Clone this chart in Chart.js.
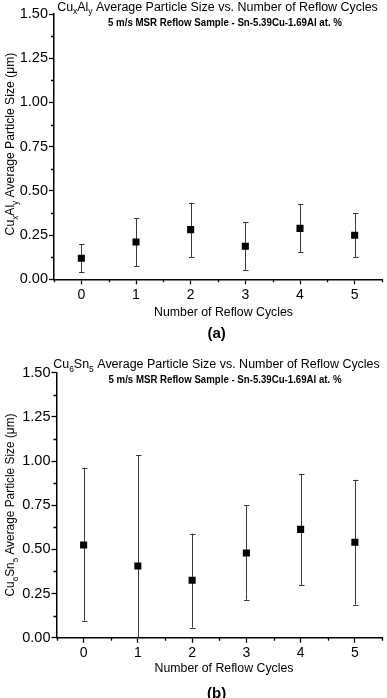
<!DOCTYPE html>
<html><head><meta charset="utf-8">
<script src="https://cdn.jsdelivr.net/npm/chart.js@4.4.0/dist/chart.umd.min.js"></script>
<style>
html,body{margin:0;padding:0;background:#fff;width:387px;height:698px;overflow:hidden}
.box{position:absolute;left:0;width:387px;height:349px}
</style></head><body>
<div class="box" style="top:0"><canvas id="c1"></canvas></div>
<div class="box" style="top:349px"><canvas id="c2"></canvas></div>
<script>
// ---- data ----
const cycles = [0, 1, 2, 3, 4, 5];
const xTickLabels = ['0', '1', '2', '3', '4', '5'];
const yTickValues = [0, 0.25, 0.5, 0.75, 1.0, 1.25, 1.5];
const cuAlMean  = [0.119, 0.211, 0.281, 0.187, 0.288, 0.249];
const cuAlUpper = [0.198, 0.345, 0.433, 0.322, 0.424, 0.373];
const cuAlLower = [0.040, 0.074, 0.126, 0.054, 0.154, 0.126];
const cuSnMean  = [0.525, 0.406, 0.325, 0.479, 0.613, 0.540];
const cuSnUpper = [0.962, 1.032, 0.589, 0.749, 0.926, 0.894];
const cuSnLower = [0.096, -0.220, 0.057, 0.215, 0.298, 0.187];
const subtitleText = '5 m/s MSR Reflow Sample - Sn-5.39Cu-1.69Al at. %';
const xTitleText = 'Number of Reflow Cycles';
const titleA = [['Cu',0],['x',1],['Al',0],['y',1],[' Average Particle Size vs. Number of Reflow Cycles',0]];
const yTitleA = [['Cu',0],['x',1],['Al',0],['y',1],[' Average Particle Size (\u03bcm)',0]];
const titleB = [['Cu',0],['6',1],['Sn',0],['5',1],[' Average Particle Size vs. Number of Reflow Cycles',0]];
const yTitleB = [['Cu',0],['6',1],['Sn',0],['5',1],[' Average Particle Size (\u03bcm)',0]];

const FONT = '"Liberation Sans", Arial, sans-serif';

function richWidth(ctx, parts, size, weight) {
  let w = 0;
  for (const [t, sub] of parts) {
    ctx.font = `${weight||''} ${sub ? size*0.68 : size}px ${FONT}`;
    w += ctx.measureText(t).width;
  }
  return w;
}
// draws rich text centered at cx with baseline at by.
// target: width to fit; mode 'size' fits by font size, 'scale' squeezes horizontally
function drawRich(ctx, parts, cx, by, size, weight, target, mode) {
  let w = richWidth(ctx, parts, size, weight);
  let sx = 1;
  if (target) {
    if (mode === 'size') { size = size * target / w; w = richWidth(ctx, parts, size, weight); }
    else sx = target / w;
  }
  ctx.save();
  ctx.translate(cx, by);
  ctx.scale(sx, 1);
  ctx.fillStyle = '#000';
  ctx.textBaseline = 'alphabetic';
  ctx.textAlign = 'left';
  let x = -w / 2;
  for (const [t, sub] of parts) {
    ctx.font = `${weight||''} ${sub ? size*0.68 : size}px ${FONT}`;
    ctx.fillText(t, x, sub ? size*0.3 : 0);
    x += ctx.measureText(t).width;
  }
  ctx.restore();
}

const decorPlugin = {
  id: 'decor',
  beforeDatasetsDraw(chart) {
    const o = chart.options.plugins.decor;
    const ctx = chart.ctx, xs = chart.scales.x, ys = chart.scales.y, a = chart.chartArea;
    ctx.save();
    ctx.beginPath();
    ctx.rect(a.left, a.top - 10, a.right - a.left, a.bottom - a.top + 10);
    ctx.clip();
    ctx.strokeStyle = '#3a3a3a';
    ctx.lineWidth = 1;
    o.x.forEach((xv, i) => {
      const px = Math.round(xs.getPixelForValue(xv)) + 0.5;
      const pu = ys.getPixelForValue(o.upper[i]);
      const pl = ys.getPixelForValue(o.lower[i]);
      ctx.beginPath();
      ctx.moveTo(px, pu); ctx.lineTo(px, pl);
      ctx.moveTo(px - 2.5, Math.round(pu) + 0.5); ctx.lineTo(px + 3, Math.round(pu) + 0.5);
      ctx.moveTo(px - 2.5, Math.round(pl) + 0.5); ctx.lineTo(px + 3, Math.round(pl) + 0.5);
      ctx.stroke();
    });
    ctx.restore();
  },
  afterDraw(chart) {
    const o = chart.options.plugins.decor;
    const ctx = chart.ctx, xs = chart.scales.x, ys = chart.scales.y, a = chart.chartArea;
    ctx.save();
    ctx.strokeStyle = '#000';
    ctx.lineWidth = 1.3;
    ctx.beginPath();
    for (let v = 0.125; v < 1.5; v += 0.25) {
      const py = Math.round(ys.getPixelForValue(v)) + 0.5;
      ctx.moveTo(a.left, py); ctx.lineTo(a.left - 3, py);
    }
    for (let v = -0.5; v <= 5.5; v += 1) {
      const px = Math.round(xs.getPixelForValue(v)) + 0.5;
      ctx.moveTo(px, a.bottom); ctx.lineTo(px, a.bottom + 3);
    }
    ctx.stroke();
    ctx.restore();
    drawRich(ctx, o.title, o.titleX, o.titleY, 14, '', o.titleW, 'size');
    drawRich(ctx, [[subtitleText, 0]], o.subX, o.subY, 10, 'bold', o.subW, 'scale');
    drawRich(ctx, [[xTitleText, 0]], o.xtX, o.xtY, 12.5, '', 139, 'size');
    drawRich(ctx, [[o.tag, 0]], o.tagX, o.tagY, 15, 'bold');
    ctx.save();
    ctx.translate(o.ytX, o.ytY);
    ctx.rotate(-Math.PI / 2);
    drawRich(ctx, o.yTitle, 0, 0, 13, '', 183, 'size');
    ctx.restore();
  }
};

function makeChart(id, mean, upper, lower, geom, decor) {
  const pts = cycles.map((c, i) => ({ x: c, y: mean[i] }));
  return new Chart(document.getElementById(id), {
    type: 'scatter',
    data: { datasets: [{ data: pts, pointStyle: 'rect', pointRadius: 5, pointHoverRadius: 5,
      backgroundColor: '#000', borderColor: '#000', borderWidth: 0 }] },
    options: {
      responsive: true, maintainAspectRatio: false, animation: false,
      events: [],
      layout: { padding: { top: geom.top, right: geom.right, left: 0, bottom: 0 } },
      plugins: { legend: { display: false }, tooltip: { enabled: false }, title: { display: false },
        decor: Object.assign({ x: cycles, upper, lower }, decor) },
      scales: {
        x: {
          type: 'linear', min: -0.5, max: 5.5,
          afterFit(s) { s.height = geom.xh; },
          afterBuildTicks(s) { s.ticks = cycles.map(v => ({ value: v })); },
          ticks: { callback: (v) => xTickLabels[cycles.indexOf(v)] ?? '', autoSkip: false, maxRotation: 0,
            padding: 2, color: '#000', font: { family: FONT, size: 14 } },
          grid: { drawOnChartArea: false, tickLength: 5, tickColor: '#000', tickWidth: 1.3 },
          border: { display: true, color: '#000', width: 1.5 }
        },
        y: {
          type: 'linear', min: 0, max: 1.5,
          afterFit(s) { s.width = geom.yw; },
          afterBuildTicks(s) { s.ticks = yTickValues.map(v => ({ value: v })); },
          ticks: { callback: (v) => v.toFixed(2), autoSkip: false, padding: 1, color: '#000',
            font: { family: FONT, size: 14.5 } },
          grid: { drawOnChartArea: false, tickLength: 5, tickColor: '#000', tickWidth: 1.3 },
          border: { display: true, color: '#000', width: 1.5 }
        }
      }
    },
    plugins: [decorPlugin]
  });
}

makeChart('c1', cuAlMean, cuAlUpper, cuAlLower,
  { top: 14, right: 2, xh: 69.7, yw: 54 },
  { title: titleA, titleX: 217.5, titleY: 10.5, titleW: 321,
    subX: 225, subY: 26, subW: 234,
    xtX: 223.5, xtY: 316, tag: '(a)', tagX: 216.7, tagY: 338,
    yTitle: yTitleA, ytX: 14, ytY: 144 });

makeChart('c2', cuSnMean, cuSnUpper, cuSnLower,
  { top: 23.7, right: 1.5, xh: 60.3, yw: 56.5 },
  { title: titleB, titleX: 216.5, titleY: 19.3, titleW: 327,
    subX: 225, subY: 33.7, subW: 233,
    xtX: 224, xtY: 323, tag: '(b)', tagX: 216.7, tagY: 349,
    yTitle: yTitleB, ytX: 14, ytY: 156 });
</script>
</body></html>
